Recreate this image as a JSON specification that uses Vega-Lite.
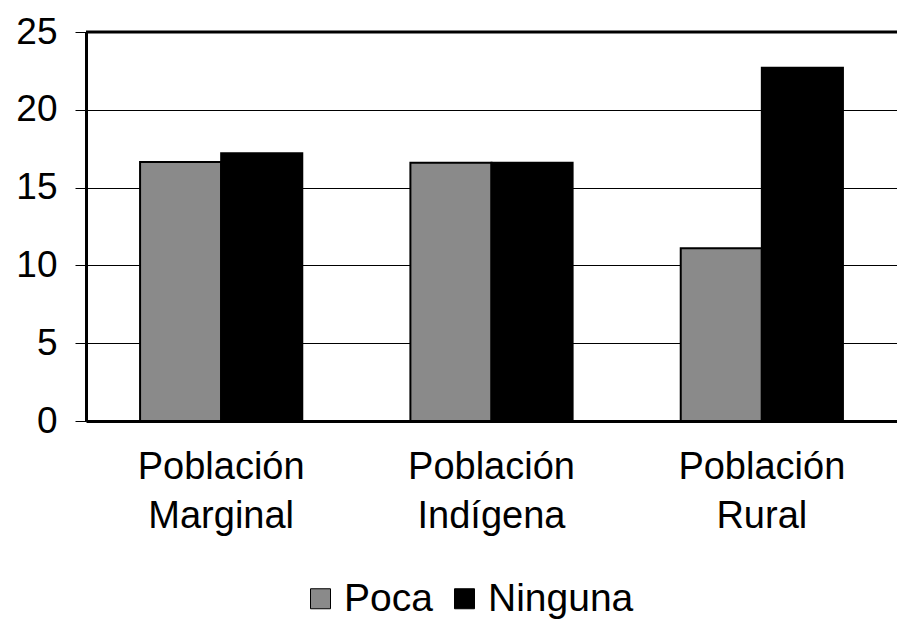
{
  "$schema": "https://vega.github.io/schema/vega-lite/v6.json",
  "autosize": "none",
  "width": 811,
  "height": 389,
  "padding": {"left": 86, "top": 32, "right": 0, "bottom": 198},
  "background": "white",
  "config": {
    "view": {"stroke": null},
    "font": "Liberation Sans"
  },
  "data": {
    "values": [
      {"grupo": "Población Marginal", "serie": "Poca", "valor": 16.65},
      {"grupo": "Población Marginal", "serie": "Ninguna", "valor": 17.2},
      {"grupo": "Población Indígena", "serie": "Poca", "valor": 16.6},
      {"grupo": "Población Indígena", "serie": "Ninguna", "valor": 16.6},
      {"grupo": "Población Rural", "serie": "Poca", "valor": 11.1},
      {"grupo": "Población Rural", "serie": "Ninguna", "valor": 22.7}
    ]
  },
  "layer": [
    {
      "mark": {"type": "bar", "stroke": "black", "strokeWidth": 2},
      "encoding": {
        "x": {
          "field": "grupo", "type": "nominal", "sort": null,
          "scale": {"paddingInner": 0.4, "paddingOuter": 0.2},
          "axis": {
            "title": null, "labelAngle": 0, "ticks": false,
            "domainColor": "black", "domainWidth": 3,
            "labelFontSize": 38, "labelColor": "black", "labelPadding": 27,
            "labelLineHeight": 49,
            "labelExpr": "split(datum.label, ' ')"
          }
        },
        "xOffset": {"field": "serie", "type": "nominal", "sort": ["Poca", "Ninguna"], "scale": {"paddingInner": 0}},
        "y": {
          "field": "valor", "type": "quantitative",
          "scale": {"domain": [0, 25], "nice": false},
          "axis": {
            "title": null, "values": [0, 5, 10, 15, 20, 25],
            "grid": true, "gridColor": "black", "gridWidth": 1, "gridOpacity": 1,
            "domainColor": "black", "domainWidth": 3,
            "tickColor": "black", "tickSize": 11, "tickWidth": 1,
            "labelFontSize": 37, "labelColor": "black", "labelPadding": 18
          }
        },
        "color": {
          "field": "serie", "type": "nominal",
          "sort": ["Poca", "Ninguna"],
          "scale": {"domain": ["Poca", "Ninguna"], "range": ["#8a8a8a", "#000000"]},
          "legend": {
            "title": null, "orient": "none", "legendX": 215, "legendY": 547,
            "direction": "horizontal",
            "symbolType": "square", "symbolSize": 400, "symbolStrokeColor": "black", "symbolStrokeWidth": 1,
            "labelFontSize": 39, "labelColor": "black",
            "columnPadding": 12, "labelOffset": 4
          }
        }
      }
    },
    {
      "data": {"values": [{"v": 25}]},
      "mark": {"type": "rule", "color": "black", "strokeWidth": 3},
      "encoding": {"y": {"field": "v", "type": "quantitative"}}
    }
  ]
}
